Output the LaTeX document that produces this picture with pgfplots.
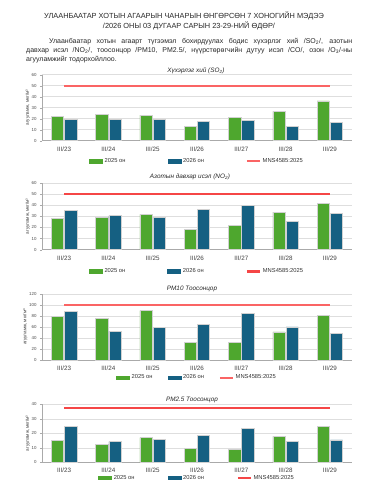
\documentclass[border=0pt]{standalone}
\usepackage{pgfplots}
\pgfplotsset{compat=1.18}
\usepackage{fontspec}
\setmainfont{Liberation Sans}
\definecolor{cgreen}{RGB}{78,167,46}
\definecolor{cblue}{RGB}{21,96,130}
\definecolor{limred}{RGB}{245,70,70}
\definecolor{limlight}{RGB}{250,100,100}
\definecolor{cgrid}{RGB}{222,222,222}
\definecolor{caxis}{RGB}{170,170,170}

\pgfplotstableread{
x g b
0 22.1 19.4
1 23.9 19.1
2 23.3 19.1
3 12.7 17.9
4 21.2 18.5
5 26.7 13.3
6 36.1 16.7
}\so
\pgfplotstableread{
x g b
0 27.9 35.1
1 29.1 30.6
2 31.8 28.8
3 18.6 36.3
4 21.9 39.9
5 33.9 25.2
6 42.0 33.0
}\no
\pgfplotstableread{
x g b
0 78.8 89.0
1 75.8 52.0
2 89.7 59.4
3 32.0 64.0
4 31.5 84.0
5 51.0 60.0
6 80.6 48.0
}\pmten
\pgfplotstableread{
x g b
0 14.9 24.6
1 12.4 14.3
2 17.0 15.6
3 9.7 18.4
4 8.7 23.4
5 17.9 14.5
6 24.6 15.4
}\pmtwo
\pgfplotstableread{
x y
0 50
6 50
}\limfifty
\pgfplotstableread{
x y
0 100
6 100
}\limhundred
\pgfplotstableread{
x y
0 37.5
6 37.5
}\limpm

\pgfplotsset{
  chart/.style={
    scale only axis, width=310bp,
    xmin=-0.5, xmax=6.5,
    ymin=0,
    xtick={0,...,6},
    xticklabels={III/23,III/24,III/25,III/26,III/27,III/28,III/29},
    x tick label style={font=\fontsize{6.3}{6.5}\selectfont, text=black!75, yshift=-0.5bp},
    y tick label style={font=\fontsize{4.4}{4.5}\selectfont, text=black!70},
    /pgf/number format/assume math mode=true,
    xtick style={draw=none},
    ytick style={caxis},
    major tick length=2bp,
    tick align=outside,
    extra x ticks={-0.5,0.5,...,6.5},
    extra x tick labels={},
    extra x tick style={grid=none, tick style={draw=caxis}, major tick length=3bp},
    axis x line*=bottom, axis y line*=left,
    axis line style={caxis, -},
    ymajorgrids, grid style={cgrid, line width=0.5bp},
    ylabel={агууламж, мкг/м³},
    ylabel style={font=\fontsize{4.6}{4.8}\selectfont, text=black!80, yshift=-5bp},
    legend columns=3,
    legend style={draw=none, fill=none, font=\fontsize{5.8}{6}\selectfont, text=black!80},
    clip=false,
  },
  gbar/.style={ybar, bar width=12.3bp, bar shift=-6.6bp, fill=cgreen, draw=black!18, line width=0.6bp,
    legend image code/.code={\fill[cgreen] (0bp,-1.7bp) rectangle (13bp,1.7bp);}},
  bbar/.style={ybar, bar width=12.3bp, bar shift=6.6bp, fill=cblue, draw=black!18, line width=0.6bp,
    legend image code/.code={\fill[cblue] (0bp,-1.7bp) rectangle (13bp,1.7bp);}},
}

\begin{document}
\begin{tikzpicture}
\useasboundingbox (0,0) rectangle (376bp,500bp);

\node[font=\fontsize{7.4}{9.6}\selectfont, align=center, text=black!85] at (184bp,479bp)
  {УЛААНБААТАР ХОТЫН АГААРЫН ЧАНАРЫН ӨНГӨРСӨН 7 ХОНОГИЙН МЭДЭЭ\\
   \hspace*{10bp}/2026 ОНЫ 03 ДУГААР САРЫН 23-29-НИЙ ӨДӨР/};

\node[font=\fontsize{7}{8.6}\selectfont, text width=326bp, align=justify, anchor=north west, inner sep=0pt, text=black!85]
  at (26bp,461.5bp)
  {\hspace*{23bp}Улаанбаатар хотын агаарт түгээмэл бохирдуулах бодис хүхэрлэг хий /SO\textsubscript{2}/, азотын\linebreak
   давхар исэл /NO\textsubscript{2}/, тоосонцор /PM10, PM2.5/, нүүрстөрөгчийн дутуу исэл /CO/, озон /O\textsubscript{3}/-ны\linebreak
   агууламжийг тодорхойллоо.};

% SO2
\node[font=\itshape\fontsize{6.4}{7}\selectfont, text=black!85] at (196bp,429bp) {Хүхэрлэг хий (SO\textsubscript{2})};
\begin{axis}[chart, at={(42bp,359.3bp)}, anchor=south west, height=66bp,
  ymax=60, ytick={0,10,...,60},
  legend style={at={(0.5,0)}, anchor=center, yshift=-20.5bp,
    /tikz/every even column/.append style={column sep=40bp}}]
\addplot[gbar] table[x=x,y=g]{\so};
\addplot[bbar] table[x=x,y=b]{\so};
\addplot[limlight, line width=1.7bp, mark=none, sharp plot,
  legend image code/.code={\draw[limlight, line width=1.7bp] (0bp,0bp) -- (13bp,0bp);}]
  table[x=x,y=y]{\limfifty};
\legend{2025 он,2026 он,MNS4585:2025}
\end{axis}

% NO2
\node[font=\itshape\fontsize{6.4}{7}\selectfont, text=black!85] at (190bp,323bp) {Азотын давхар исэл (NO\textsubscript{2})};
\begin{axis}[chart, at={(42bp,250.3bp)}, anchor=south west, height=66.7bp,
  ymax=60, ytick={0,10,...,60},
  legend style={at={(0.5,0)}, anchor=center, yshift=-21.8bp,
    /tikz/every even column/.append style={column sep=40bp}}]
\addplot[gbar] table[x=x,y=g]{\no};
\addplot[bbar] table[x=x,y=b]{\no};
\addplot[limred, line width=1.6bp, mark=none, sharp plot,
  legend image code/.code={\draw[limred, line width=2.1bp] (0bp,0bp) -- (13bp,0bp);}]
  table[x=x,y=y]{\limfifty};
\legend{2025 он,2026 он,MNS4585:2025}
\end{axis}

% PM10
\node[font=\itshape\fontsize{6.4}{7}\selectfont, text=black!85] at (192bp,211.3bp) {PM10 Тоосонцор};
\begin{axis}[chart, at={(42bp,140bp)}, anchor=south west, height=66bp,
  ymax=120, ytick={0,20,...,120},
  legend style={at={(0.5,0)}, anchor=center, yshift=-17.7bp,
    /tikz/every even column/.append style={column sep=13bp}}]
\addplot[gbar] table[x=x,y=g]{\pmten};
\addplot[bbar] table[x=x,y=b]{\pmten};
\addplot[limlight, line width=1.7bp, mark=none, sharp plot,
  legend image code/.code={\draw[limlight, line width=1.7bp] (0bp,0bp) -- (13bp,0bp);}]
  table[x=x,y=y]{\limhundred};
\legend{2025 он,2026 он,MNS4585:2025}
\end{axis}

% PM2.5
\node[font=\itshape\fontsize{6.4}{7}\selectfont, text=black!85] at (192bp,100.3bp) {PM2.5 Тоосонцор};
\begin{axis}[chart, at={(42bp,37.7bp)}, anchor=south west, height=58bp,
  ymax=40, ytick={0,10,...,40},
  legend style={at={(0.5,0)}, anchor=center, yshift=-15.7bp,
    /tikz/every even column/.append style={column sep=31bp}}]
\addplot[gbar] table[x=x,y=g]{\pmtwo};
\addplot[bbar] table[x=x,y=b]{\pmtwo};
\addplot[limred, line width=1.6bp, mark=none, sharp plot,
  legend image code/.code={\draw[limred, line width=1.6bp] (0bp,0bp) -- (13bp,0bp);}]
  table[x=x,y=y]{\limpm};
\legend{2025 он,2026 он,MNS4585:2025}
\end{axis}
\end{tikzpicture}
\end{document}
